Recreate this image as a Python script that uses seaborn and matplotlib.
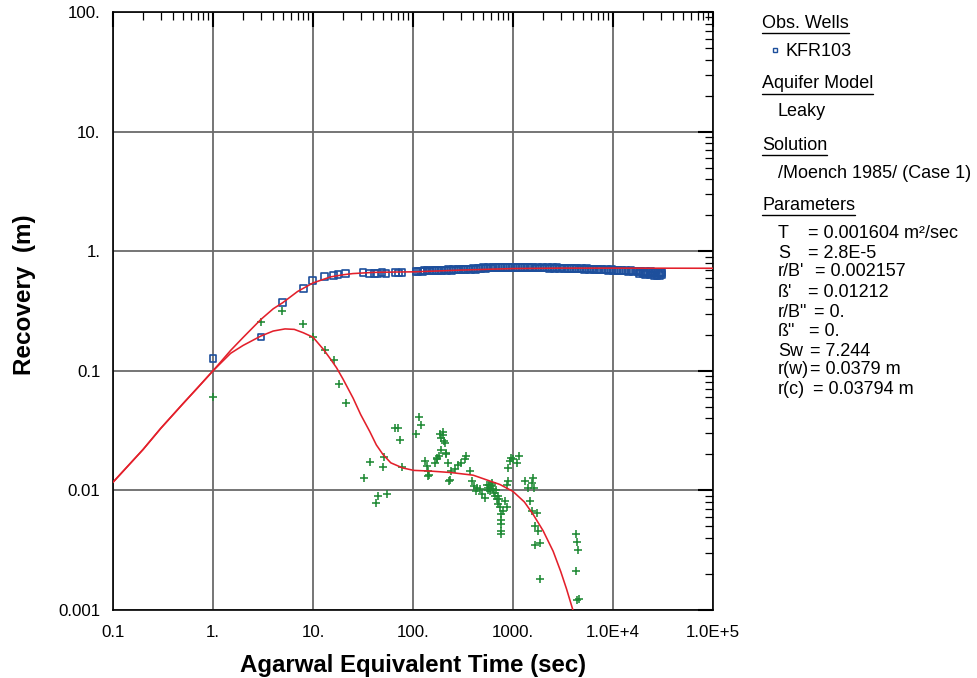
import matplotlib
matplotlib.use("Agg")
import matplotlib.pyplot as plt
import matplotlib.ticker as mticker
from matplotlib.lines import Line2D
import numpy as np
import pandas as pd
import seaborn as sns

# ---- observed recovery, well KFR103 (time in s, recovery in m) ----
rec_t = [1.0, 3.02, 4.93, 8.0, 9.93, 13.0, 16.0, 17.8, 21.0, 31.6, 36.5, 41.0, 44.5,
         49.0, 53.7, 66.4, 71.6, 77.6, 108,
         112, 118, 125, 131, 138, 146, 155, 163, 172, 182, 193, 204, 216, 228, 241,
         255, 270, 286, 302, 320, 338, 358, 379, 401, 424, 449, 475, 503, 532, 563,
         596, 631, 668, 707, 748, 792, 838, 887, 939, 994, 1052, 1113, 1178, 1247,
         1320, 1397, 1478, 1565, 1656, 1753, 1855, 1963, 2078, 2199, 2328, 2464,
         2608, 2760, 2921, 3092, 3272, 3463, 3665, 3879, 4106, 4346, 4600, 4868,
         5153, 5453, 5772, 6109, 6466, 6843, 7243, 7666, 8114, 8588, 9089, 9620,
         10180, 10780, 11410, 12070, 12780, 13520, 14310, 15150, 16030, 16970,
         17960, 19010, 20120, 21290, 22540, 23850, 25250, 26720, 28280, 29930, 30700,
         18500, 20000, 21000, 23500, 24600, 25800, 27500, 29000, 30300]
rec_s = [0.127, 0.192, 0.372, 0.484, 0.569, 0.618, 0.627, 0.638, 0.651, 0.667, 0.655,
         0.655, 0.656, 0.660, 0.655, 0.662, 0.658, 0.664, 0.672,
         0.680, 0.684, 0.679, 0.686, 0.690, 0.684, 0.688, 0.693, 0.689, 0.694, 0.690,
         0.697, 0.692, 0.700, 0.695, 0.701, 0.697, 0.704, 0.699, 0.706, 0.702, 0.709,
         0.704, 0.712, 0.707, 0.716, 0.722, 0.728, 0.721, 0.730, 0.724, 0.731, 0.726,
         0.733, 0.727, 0.733, 0.728, 0.735, 0.729, 0.734, 0.728, 0.733, 0.726, 0.732,
         0.727, 0.733, 0.726, 0.731, 0.725, 0.730, 0.724, 0.729, 0.723, 0.728, 0.722,
         0.727, 0.721, 0.726, 0.719, 0.724, 0.717, 0.722, 0.715, 0.720, 0.713, 0.718,
         0.711, 0.716, 0.708, 0.713, 0.705, 0.710, 0.702, 0.707, 0.699, 0.704, 0.696,
         0.701, 0.693, 0.698, 0.689, 0.695, 0.686, 0.692, 0.683, 0.689, 0.680, 0.686,
         0.676, 0.683, 0.672, 0.680, 0.668, 0.676, 0.664, 0.672, 0.660, 0.668, 0.655,
         0.664, 0.660,
         0.650, 0.655, 0.640, 0.632, 0.645, 0.625, 0.620, 0.628, 0.635]

# ---- recovery derivative ----
der_t = [1.0, 3.02, 4.93, 8.0, 10.0, 13.2, 16.3, 18.1, 21.3, 32.5, 37.1, 42.6, 44.6,
         50.0, 51.5, 54.6, 66.4, 70.0, 73.3, 77.8, 108, 115, 119, 132, 137, 142, 140,
         144, 167, 173, 180, 190, 186, 200, 190, 204, 209, 214, 216, 224, 229, 172,
         200, 237, 242, 263, 280, 305, 330, 342, 372,
         392, 407, 422, 438, 468, 486, 525, 545, 566, 589, 611, 634, 660, 685, 712,
         741, 759, 765, 757, 765, 759, 832, 865, 786, 900, 865, 900, 933, 966, 1000,
         1084, 1143, 620, 650, 700, 680, 720, 600, 580, 560,
         1318, 1426, 1540, 1600, 1637, 1479, 1540, 1720, 1660, 1790, 1660, 1860, 1860,
         4270, 4330, 4420, 4270, 4330, 4570]
der_s = [0.0602, 0.258, 0.317, 0.245, 0.192, 0.150, 0.124, 0.077, 0.054, 0.0126,
         0.0172, 0.0078, 0.0089, 0.0158, 0.0190, 0.0094, 0.0334, 0.0334, 0.0262,
         0.0157, 0.0297, 0.0411, 0.0352, 0.0175, 0.0160, 0.0145, 0.0131, 0.0135,
         0.0170, 0.0182, 0.0193, 0.0219, 0.0297, 0.0306, 0.0275, 0.0260, 0.0250,
         0.0203, 0.0207, 0.0170, 0.0119, 0.0187, 0.0293, 0.0123, 0.0145, 0.0150,
         0.0164, 0.0170, 0.0182, 0.0193, 0.0145,
         0.0119, 0.0108, 0.0098, 0.0105, 0.0102, 0.0093, 0.0087, 0.0112, 0.0105,
         0.0098, 0.0116, 0.0102, 0.0090, 0.0084, 0.0077, 0.0072, 0.0063, 0.0057,
         0.0052, 0.0046, 0.0043, 0.0082, 0.0072, 0.0067, 0.0119, 0.0112, 0.0154,
         0.0176, 0.0187, 0.0182, 0.0170, 0.0193, 0.0110, 0.0095, 0.0090, 0.0100,
         0.0085, 0.0108, 0.0112, 0.0100,
         0.0119, 0.0105, 0.0116, 0.0127, 0.0105, 0.0082, 0.0067, 0.0065, 0.0050,
         0.0046, 0.0035, 0.0036, 0.0018,
         0.0043, 0.0037, 0.0032, 0.0021, 0.00122, 0.00123]

# ---- Moench (1985) type curves ----
fit_t = [0.1, 0.2, 0.3, 0.5, 0.7, 1.0, 1.5, 2.0, 3.0, 4.0, 5.0, 7.0, 10, 15, 20, 25,
         40, 70, 100, 150, 300, 1000, 3000, 10000, 100000]
fit_s = [0.0117, 0.022, 0.033, 0.053, 0.072, 0.100, 0.148, 0.190, 0.268, 0.330,
         0.372, 0.460, 0.543, 0.610, 0.635, 0.650, 0.665, 0.670, 0.672, 0.680,
         0.695, 0.716, 0.722, 0.722, 0.720]
dfit_t = [0.1, 0.2, 0.3, 0.5, 0.7, 1.0, 1.5, 2.0, 3.0, 4.0, 5.25, 6.5, 8.0, 10, 12.8,
          15, 17.2, 20, 25.2, 30, 37, 43, 50, 60, 79, 102, 150, 240, 400, 537, 741,
          1000, 1300, 1590, 2000, 2520, 3000, 3430, 4000]
dfit_s = [0.0117, 0.022, 0.033, 0.053, 0.072, 0.100, 0.140, 0.163, 0.195, 0.215,
          0.224, 0.222, 0.208, 0.191, 0.150, 0.125, 0.106, 0.085, 0.059, 0.043,
          0.031, 0.024, 0.020, 0.017, 0.0154, 0.0147, 0.0145, 0.0141, 0.0134,
          0.0123, 0.0112, 0.0098, 0.0080, 0.0063, 0.0046, 0.0031, 0.0021, 0.0015,
          0.00098]

x_ticklabels = ["0.1", "1.", "10.", "100.", "1000.", "1.0E+4", "1.0E+5"]
y_ticklabels = ["0.001", "0.01", "0.1", "1.", "10.", "100."]

sns.set_style("white")
plt.rcParams["font.family"] = ["Liberation Sans", "DejaVu Sans"]
plt.rcParams.update({"text.color": "black", "axes.labelcolor": "black",
                     "xtick.color": "black", "ytick.color": "black"})

BLUE = "#1d4f9c"
GREEN = "#1f8a35"
RED = "#e3202b"

W, H = 978, 678
fig = plt.figure(figsize=(W / 100, H / 100), dpi=100)
ax = fig.add_axes([113 / W, (H - 610) / H, 600 / W, 598 / H])

rec = pd.DataFrame({"t": rec_t, "s": rec_s})
der = pd.DataFrame({"t": der_t, "s": der_s})
fit = pd.DataFrame({"t": fit_t, "s": fit_s})
dfit = pd.DataFrame({"t": dfit_t, "s": dfit_s})

sns.scatterplot(data=der, x="t", y="s", marker="+", color=GREEN, s=40,
                linewidth=1.15, ax=ax, zorder=3)
sns.scatterplot(data=rec, x="t", y="s", marker="s", s=24, facecolor="none",
                edgecolor=BLUE, linewidth=1.2, ax=ax, zorder=4)
sns.lineplot(data=fit, x="t", y="s", sort=False, estimator=None, color=RED,
             lw=1.15, ax=ax, zorder=5)
sns.lineplot(data=dfit, x="t", y="s", sort=False, estimator=None, color=RED,
             lw=1.15, ax=ax, zorder=5)

ax.set_xscale("log")
ax.set_yscale("log")
ax.set_xlim(0.1, 1e5)
ax.set_ylim(0.001, 100)

ax.xaxis.set_major_locator(mticker.FixedLocator([10.0 ** k for k in range(-1, 6)]))
ax.xaxis.set_major_formatter(mticker.FixedFormatter(x_ticklabels))
ax.yaxis.set_major_locator(mticker.FixedLocator([10.0 ** k for k in range(-3, 3)]))
ax.yaxis.set_major_formatter(mticker.FixedFormatter(y_ticklabels))
ax.xaxis.set_minor_locator(mticker.LogLocator(base=10, subs=np.arange(2, 10)))
ax.yaxis.set_minor_locator(mticker.LogLocator(base=10, subs=np.arange(2, 10)))
ax.xaxis.set_minor_formatter(mticker.NullFormatter())
ax.yaxis.set_minor_formatter(mticker.NullFormatter())

ax.grid(which="major", color="#6a6a6a", lw=1.3)
ax.tick_params(which="both", direction="in", top=True, right=True, color="black",
               labelcolor="black")
ax.tick_params(which="major", length=11, width=1.5, labelsize=12.2)
ax.tick_params(axis="x", which="major", pad=11)
ax.tick_params(axis="y", which="major", pad=9)
ax.tick_params(which="minor", length=5.5, width=0.9)
for sp in ax.spines.values():
    sp.set_color("black")
    sp.set_linewidth(1.2)

ax.set_xlabel("Agarwal Equivalent Time (sec)", fontsize=17.3, fontweight="bold",
              labelpad=10, color="black")
ax.set_ylabel("Recovery  (m)", fontsize=17.5, fontweight="bold", color="black")
ax.yaxis.set_label_coords(-0.128, 0.527)

# ---- side panel ----
def fy(py):
    return 1 - py / H

def fx(px):
    return px / W

FS = 13
headers = [("Obs. Wells", 23), ("Aquifer Model", 84), ("Solution", 145),
           ("Parameters", 205)]
head_texts = []
for txt, py in headers:
    t = fig.text(fx(762), fy(py), txt, fontsize=FS, va="center", ha="left",
                 color="black")
    head_texts.append((t, py))

fig.text(fx(786), fy(51), "KFR103", fontsize=FS, va="center", ha="left",
         color="black")
fig.add_artist(Line2D([fx(775)], [fy(50)], marker="s", ms=3.4, mfc="none",
                      mec=BLUE, mew=1.0, transform=fig.transFigure))
fig.text(fx(778), fy(112), "Leaky", fontsize=FS, va="center", ha="left",
         color="black")
fig.text(fx(778), fy(173), "/Moench 1985/ (Case 1)", fontsize=FS, va="center",
         ha="left", color="black")

params = [("T", "= 0.001604 m\u00b2/sec", 808, 233),
          ("S", "= 2.8E-5", 808, 253),
          ("r/B'", "= 0.002157", 815, 272),
          ("\u00df'", "= 0.01212", 808, 292),
          ('r/B"', "= 0.", 814, 312),
          ('\u00df"', "= 0.", 809, 331),
          ("Sw", "= 7.244", 810, 351),
          ("r(w)", "= 0.0379 m", 810, 370),
          ("r(c)", "= 0.03794 m", 813, 390)]
fig.canvas.draw()
rend = fig.canvas.get_renderer()
for name, val, vx, py in params:
    tn = fig.text(fx(778), fy(py), name, fontsize=FS, va="center", ha="left",
                  color="black")
    x_end = tn.get_window_extent(rend).x1
    fig.text(fx(max(vx, x_end + 1)), fy(py), val, fontsize=FS, va="center",
             ha="left", color="black")

# underline the section headers
for t, py in head_texts:
    bb = t.get_window_extent(rend)
    fig.add_artist(Line2D([bb.x0 / W, bb.x1 / W], [fy(py + 10), fy(py + 10)],
                          color="black", lw=1.0, transform=fig.transFigure))

fig.savefig("out.png", dpi=100)
